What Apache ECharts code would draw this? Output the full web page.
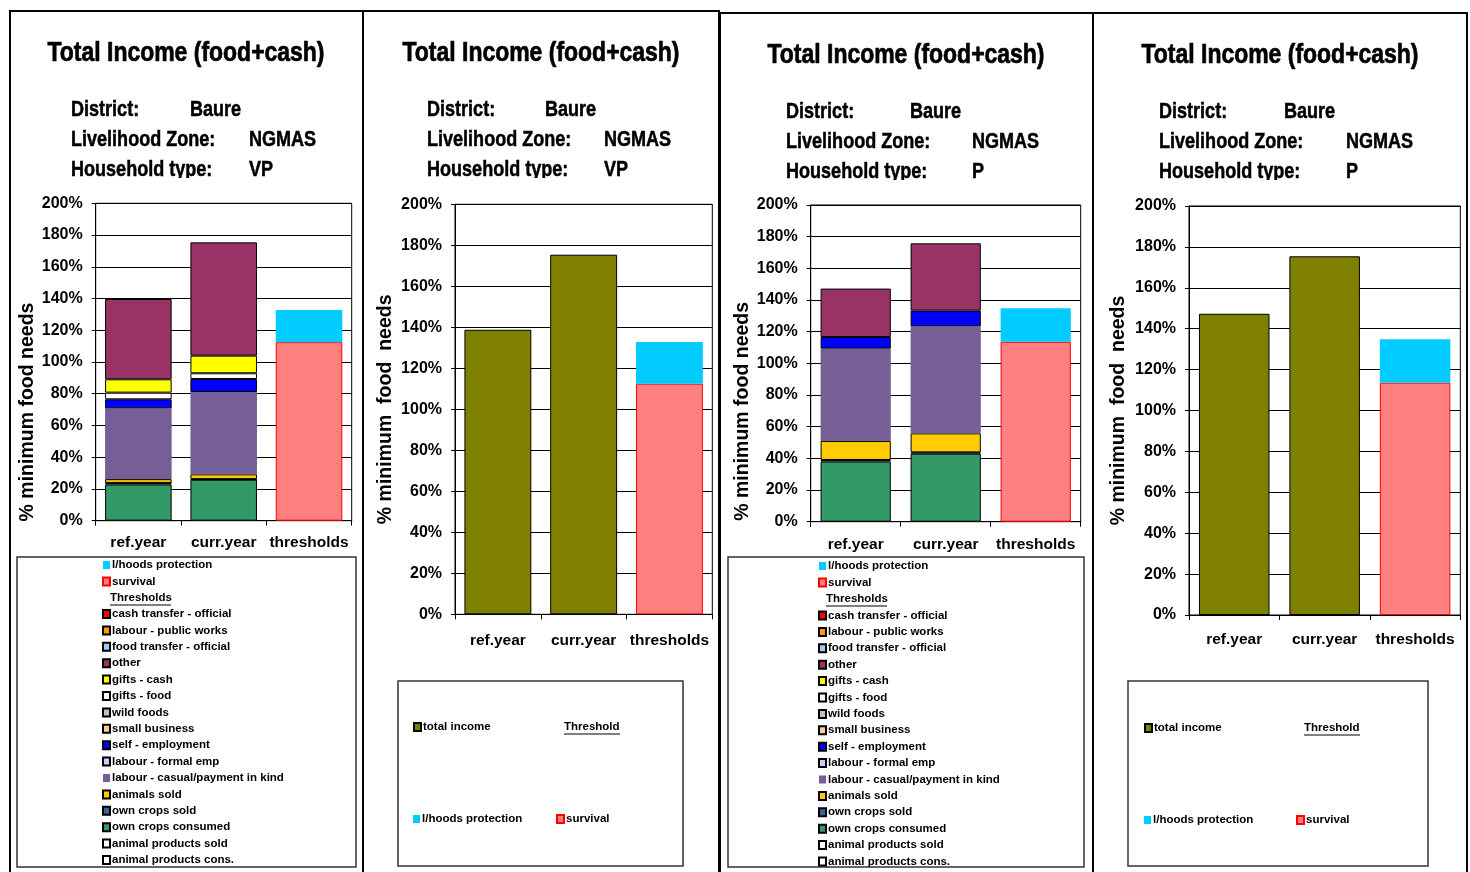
<!DOCTYPE html>
<html><head><meta charset="utf-8">
<script src="https://cdn.jsdelivr.net/npm/echarts@6/dist/echarts.min.js"></script>
<style>html,body{margin:0;padding:0;background:#fff}#c{width:1470px;height:872px}</style>
</head><body><div id="c"></div>
<script>
// ---------------- DATA ----------------
const categories = ['ref.year', 'curr.year', 'thresholds'];

// Household type VP (panels 1 and 2), % of minimum food needs
const vpAnimalProductsCons = [0, 0, 0];
const vpAnimalProductsSold = [0, 0, 0];
const vpOwnCropsConsumed   = [22.8, 25.8, 0];
const vpOwnCropsSold       = [1.0, 0.4, 0];
const vpAnimalsSold        = [2.4, 3.0, 0];
const vpLabourCasual       = [44.6, 51.9, 0];
const vpLabourFormal       = [0, 0, 0];
const vpSelfEmployment     = [5.7, 8.2, 0];
const vpSmallBusiness      = [0, 0, 0];
const vpWildFoods          = [0, 0, 0];
const vpGiftsFood          = [4.2, 3.6, 0];
const vpGiftsCash          = [8.4, 11.1, 0];
const vpOther              = [50.6, 71.4, 0];
const vpFoodTransfer       = [0, 0, 0];
const vpPublicWorks        = [0, 0, 0];
const vpCashTransfer       = [0, 0, 0];
const vpSurvival           = [0, 0, 112.5];
const vpLivelihoodsProt    = [0, 0, 20.3];
const vpTotalIncome        = [138.8, 175.4, 0];

// Household type P (panels 3 and 4)
const pAnimalProductsCons = [0, 0, 0];
const pAnimalProductsSold = [0, 0, 0];
const pOwnCropsConsumed   = [38.0, 43.0, 0];
const pOwnCropsSold       = [1.0, 0.8, 0];
const pAnimalsSold        = [12.0, 12.0, 0];
const pLabourCasual       = [58.3, 67.6, 0];
const pLabourFormal       = [0, 0, 0];
const pSelfEmployment     = [7.3, 9.9, 0];
const pSmallBusiness      = [0, 0, 0];
const pWildFoods          = [0, 0, 0];
const pGiftsFood          = [0, 0, 0];
const pGiftsCash          = [0, 0, 0];
const pOther              = [30.6, 42.5, 0];
const pFoodTransfer       = [0, 0, 0];
const pPublicWorks        = [0, 0, 0];
const pCashTransfer       = [0, 0, 0];
const pSurvival           = [0, 0, 113.6];
const pLivelihoodsProt    = [0, 0, 21.2];
const pTotalIncome        = [147.3, 175.4, 0];

// income source names (bottom of stack first)
const sourceNames = ['animal products cons.', 'animal products sold', 'own crops consumed', 'own crops sold',
  'animals sold', 'labour - casual/payment in kind', 'labour - formal emp', 'self - employment',
  'small business', 'wild foods', 'gifts - food', 'gifts - cash', 'other',
  'food transfer - official', 'labour - public works', 'cash transfer - official'];
const vpSources = [vpAnimalProductsCons, vpAnimalProductsSold, vpOwnCropsConsumed, vpOwnCropsSold,
  vpAnimalsSold, vpLabourCasual, vpLabourFormal, vpSelfEmployment, vpSmallBusiness, vpWildFoods,
  vpGiftsFood, vpGiftsCash, vpOther, vpFoodTransfer, vpPublicWorks, vpCashTransfer];
const pSources = [pAnimalProductsCons, pAnimalProductsSold, pOwnCropsConsumed, pOwnCropsSold,
  pAnimalsSold, pLabourCasual, pLabourFormal, pSelfEmployment, pSmallBusiness, pWildFoods,
  pGiftsFood, pGiftsCash, pOther, pFoodTransfer, pPublicWorks, pCashTransfer];
const legendOrder = ['cash transfer - official', 'labour - public works', 'food transfer - official', 'other',
  'gifts - cash', 'gifts - food', 'wild foods', 'small business', 'self - employment', 'labour - formal emp',
  'labour - casual/payment in kind', 'animals sold', 'own crops sold', 'own crops consumed',
  'animal products sold', 'animal products cons.'];

// ---------------- STYLE ----------------
const sourceColors = ['#FFFFFF', '#FFFFFF', '#339966', '#336699', '#FFCC00', '#765E96', '#CCCCFF', '#0000FF',
  '#FFCC99', '#C0C0C0', '#FFFFFF', '#FFFF00', '#993366', '#99CCFF', '#FF9900', '#FF0000'];
const ARIAL = "'Liberation Sans',Arial,sans-serif";
const NARROW_SCALE = 0.82;

const panels = [
  { grid: [95.7, 351.7, 203.3, 520.7], xMargin: 14, yNameGap: 55, yNamePad: 100, yName: '% minimum food needs' },
  { grid: [455, 712.3, 204.3, 614.3], xMargin: 18, yNameGap: 59, yNamePad: 0, yName: '% minimum  food  needs' },
  { grid: [810.7, 1080.7, 205, 521.7], xMargin: 15, yNameGap: 57, yNamePad: 96, yName: '% minimum food needs' },
  { grid: [1189, 1460.3, 206, 615], xMargin: 17, yNameGap: 60, yNamePad: 0, yName: '% minimum  food  needs' }
];
const W = 1470, H = 872;

const grids = [], xAxes = [], yAxes = [], series = [];
panels.forEach((p, i) => {
  const [l, r, t, b] = p.grid;
  grids.push({ left: l, right: W - r, top: t, bottom: H - b, show: true, borderColor: '#000', borderWidth: 1, backgroundColor: 'transparent' });
  xAxes.push({ type: 'category', gridIndex: i, data: categories,
    axisLine: { lineStyle: { color: '#000', width: 1 } },
    axisTick: { show: true, length: 5, alignWithLabel: false, lineStyle: { color: '#000' } },
    axisLabel: { color: '#000', fontWeight: 'bold', fontSize: 15.5, fontFamily: ARIAL, margin: p.xMargin, interval: 0 } });
  yAxes.push({ type: 'value', gridIndex: i, min: 0, max: 200, interval: 20,
    axisLine: { show: true, lineStyle: { color: '#000', width: 1 } },
    axisTick: { show: true, length: 4, lineStyle: { color: '#000' } },
    axisLabel: { formatter: '{value}%', color: '#000', fontWeight: 'bold', fontSize: 16, fontFamily: ARIAL, margin: 13 },
    splitLine: { show: true, lineStyle: { color: '#000', width: 1 } },
    name: p.yName, nameLocation: 'middle', nameRotate: 90, nameGap: p.yNameGap,
    nameTextStyle: { color: '#000', fontWeight: 'bold', fontSize: 19.5, fontFamily: ARIAL, padding: [0, p.yNamePad, 0, 0] } });
});

const toData = arr => arr.map(v => (v === 0 ? '-' : v));
function addSeries(panelIdx, name, arr, color, border) {
  series.push({ type: 'bar', name, xAxisIndex: panelIdx, yAxisIndex: panelIdx, stack: 'st' + panelIdx,
    barCategoryGap: '22%', data: toData(arr), animation: false, emphasis: { disabled: true },
    itemStyle: { color, borderColor: border || color, borderWidth: border ? 1 : 0 } });
}
function addThresholds(panelIdx, surv, lhp) {
  addSeries(panelIdx, 'survival', surv, '#FF8080', '#FF0000');
  addSeries(panelIdx, 'l/hoods protection', lhp, '#00CCFF', null);
}
[[0, vpSources, vpSurvival, vpLivelihoodsProt], [2, pSources, pSurvival, pLivelihoodsProt]].forEach(([pi, src, s, lh]) => {
  sourceNames.forEach((n, k) => addSeries(pi, n, src[k], sourceColors[k], n === 'labour - casual/payment in kind' ? null : '#000'));
  addThresholds(pi, s, lh);
});
[[1, vpTotalIncome, vpSurvival, vpLivelihoodsProt], [3, pTotalIncome, pSurvival, pLivelihoodsProt]].forEach(([pi, tot, s, lh]) => {
  addSeries(pi, 'total income', tot, '#808000', '#000');
  addThresholds(pi, s, lh);
});

// ---------------- LEGENDS ----------------
const legTxt = { color: '#000', fontWeight: 'bold', fontSize: 11.5, fontFamily: ARIAL, lineHeight: 14, padding: [0, 0, 0, -3] };
function legend(data, left, top) {
  return { data, left, top, orient: 'vertical', icon: 'rect', itemWidth: 7, itemHeight: 8, itemGap: 2.4,
    selectedMode: false, textStyle: legTxt, padding: 0 };
}
const legends = [
  legend(['l/hoods protection', 'survival'], 102, 558),
  legend(legendOrder, 102, 607),
  legend(['l/hoods protection', 'survival'], 818, 559),
  legend(legendOrder, 818, 608.5),
  legend(['total income'], 413, 720),
  legend(['l/hoods protection'], 413, 812),
  legend(['survival'], 556, 812),
  legend(['total income'], 1144, 721),
  legend(['l/hoods protection'], 1144, 813),
  legend(['survival'], 1296, 813)
];

// ---------------- TEXT / FRAMES ----------------
const elements = [];
// frames
[[10, 11, 353, 880], [363, 11, 356, 880], [720, 13, 373, 880], [1093, 13, 374, 880]].forEach(([x, y, w, h]) =>
  elements.push({ type: 'rect', shape: { x, y, width: w, height: h }, style: { fill: 'none', stroke: '#000', lineWidth: 2 }, z: 1 }));
// legend boxes
[[17, 557, 339, 310], [398, 681, 285, 185], [728, 557, 356, 310], [1128, 681, 300, 185]].forEach(([x, y, w, h]) =>
  elements.push({ type: 'rect', shape: { x, y, width: w, height: h }, style: { fill: '#fff', stroke: '#333', lineWidth: 1.5 }, z: 1 }));
// titles (narrow bold, as in the original)
[[186, 53], [541, 53], [906, 55], [1280, 55]].forEach(([x, y]) =>
  elements.push({ type: 'text', x, y, scaleX: NARROW_SCALE, z: 2,
    style: { text: 'Total Income (food+cash)', fill: '#000', stroke: '#000', lineWidth: 0.7, fontWeight: 'bold', fontSize: 28, fontFamily: ARIAL, align: 'center', verticalAlign: 'middle' } }));
const infos = [
  { x: 71, v1: 190, v2: 249, y: 110, type: 'VP', clip: [20, 178, 330] },
  { x: 427, v1: 545, v2: 604, y: 110, type: 'VP', clip: [375, 178, 330] },
  { x: 786, v1: 910, v2: 972, y: 112, type: 'P', clip: [730, 180, 350] },
  { x: 1159, v1: 1284, v2: 1346, y: 112, type: 'P', clip: [1105, 180, 350] }
];
const infoFont = { fill: '#000', stroke: '#000', lineWidth: 0.5, fontWeight: 'bold', fontSize: 22, fontFamily: ARIAL, verticalAlign: 'middle' };
infos.forEach(f => {
  const rows = [['District:', 'Baure', f.v1], ['Livelihood Zone:', 'NGMAS', f.v2], ['Household type:', f.type, f.v2]];
  rows.forEach(([lab, val, vx], k) => {
    elements.push({ type: 'text', x: f.x, y: f.y + 30 * k, scaleX: NARROW_SCALE, style: Object.assign({ text: lab }, infoFont), z: 2 });
    elements.push({ type: 'text', x: vx, y: f.y + 30 * k, scaleX: NARROW_SCALE, style: Object.assign({ text: val }, infoFont), z: 2 });
  });
  elements.push({ type: 'rect', shape: { x: f.clip[0], y: f.clip[1], width: f.clip[2], height: 12 }, style: { fill: '#fff' }, z: 3 });
});
// "Thresholds" / "Threshold" headings (underlined)
[[110, 598, 'Thresholds'], [826, 599, 'Thresholds'], [564, 727, 'Threshold'], [1304, 728, 'Threshold']].forEach(([x, y, t]) => {
  elements.push({ type: 'text', x, y, style: { text: t, fill: '#000', fontWeight: 'bold', fontSize: 11.5, fontFamily: ARIAL, verticalAlign: 'middle' }, z: 4 });
  const w = t === 'Thresholds' ? 61 : 56;
  elements.push({ type: 'line', shape: { x1: x, y1: y + 7, x2: x + w, y2: y + 7 }, style: { stroke: '#000', lineWidth: 1.2 }, z: 4 });
});

const chart = echarts.init(document.getElementById('c'), null, { renderer: 'canvas' });
chart.setOption({
  backgroundColor: '#fff',
  animation: false,
  grid: grids,
  xAxis: xAxes,
  yAxis: yAxes,
  legend: legends,
  series,
  graphic: { elements }
});
</script></body></html>
